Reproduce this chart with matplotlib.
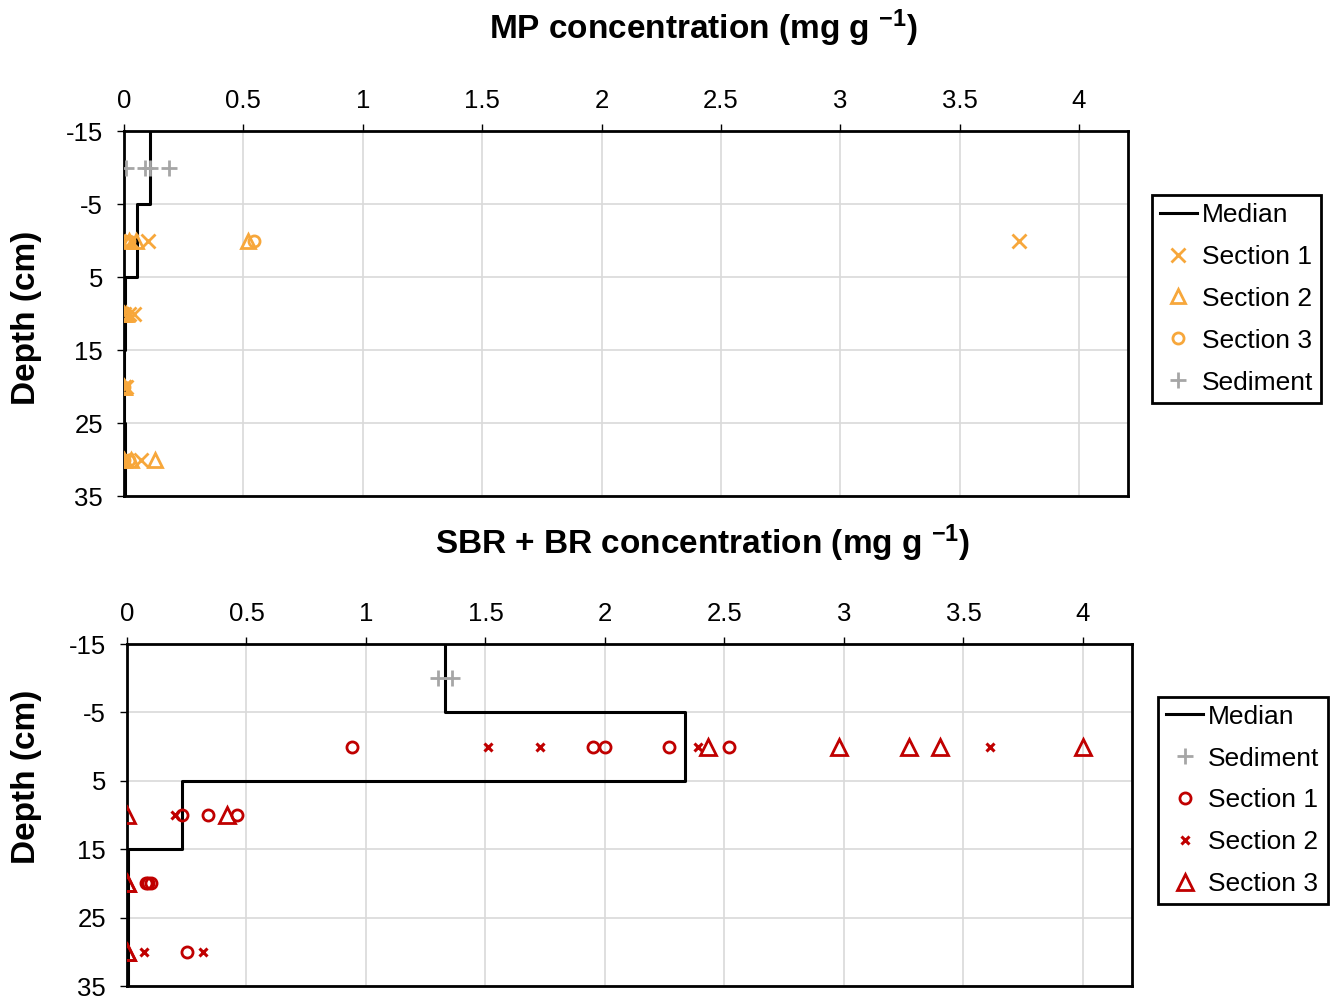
import numpy as np
import matplotlib
matplotlib.use("Agg")
import matplotlib.pyplot as plt

plt.rcParams["font.family"] = ["Liberation Sans", "DejaVu Sans"]
plt.rcParams["axes.unicode_minus"] = False
plt.rcParams["mathtext.default"] = "regular"

ORANGE = "#F7A73B"
RED = "#C00000"
GREY = "#A6A6A6"

depth_edges = [-15, -5, 5, 15, 25, 35]

# --- MP (top panel) ---
mp_median = [0.11, 0.055, 0.003, 0.002, 0.004]
mp_sed_depth = [-10, -10, -10, -10]
mp_sed_conc = [0.01, 0.09, 0.11, 0.19]
mp_s1_depth = [0, 0, 0, 10, 10, 10, 20, 20, 20, 30, 30, 30]
mp_s1_conc = [0.03, 0.10, 3.75, 0.0, 0.04, 0.02, 0.0, 0.01, 0.0, 0.0, 0.07, 0.01]
mp_s2_depth = [0, 0, 0, 10, 10, 20, 20, 30, 30, 30]
mp_s2_conc = [0.02, 0.05, 0.52, 0.0, 0.01, 0.0, 0.0, 0.0, 0.03, 0.13]
mp_s3_depth = [0, 0, 0, 10, 20, 30, 30]
mp_s3_conc = [0.0, 0.02, 0.545, 0.0, 0.0, 0.0, 0.02]

# --- SBR + BR (bottom panel) ---
sbr_median = [1.33, 2.335, 0.229, 0.003, 0.003]
sbr_sed_depth = [-10, -10]
sbr_sed_conc = [1.30, 1.36]
sbr_s1_depth = [0, 0, 0, 0, 0, 10, 10, 10, 20, 20, 20, 30]
sbr_s1_conc = [0.94, 1.95, 2.0, 2.27, 2.52, 0.23, 0.34, 0.46, 0.08, 0.09, 0.10, 0.25]
sbr_s2_depth = [0, 0, 0, 0, 10, 30, 30]
sbr_s2_conc = [1.51, 1.73, 2.39, 3.61, 0.20, 0.07, 0.32]
sbr_s3_depth = [0, 0, 0, 0, 0, 10, 10, 20, 20, 30, 30]
sbr_s3_conc = [2.43, 2.98, 3.27, 3.40, 4.0, 0.0, 0.42, 0.0, 0.0, 0.0, 0.0]

x_ticks = [0, 0.5, 1, 1.5, 2, 2.5, 3, 3.5, 4]
x_tick_labels = ["0", "0.5", "1", "1.5", "2", "2.5", "3", "3.5", "4"]
y_ticks = [-15, -5, 5, 15, 25, 35]


def median_steps(values):
    xs = np.repeat(values, 2)
    ys = []
    for i in range(len(values)):
        ys += [depth_edges[i], depth_edges[i + 1]]
    return xs, ys


def style_axes(ax):
    ax.set_xlim(0, 4.205)
    ax.set_ylim(35, -15)
    ax.set_xticks(x_ticks)
    ax.set_xticklabels(x_tick_labels)
    ax.set_yticks(y_ticks)
    ax.xaxis.tick_top()
    ax.tick_params(axis="both", labelsize=18.5, length=5, width=1, color="black")
    ax.tick_params(axis="x", pad=8)
    ax.tick_params(axis="y", pad=10)
    ax.grid(True, color="#D9D9D9", linewidth=1.2)
    ax.set_axisbelow(True)
    for sp in ax.spines.values():
        sp.set_linewidth(2)
        sp.set_color("black")


def add_legend(ax, anchor):
    leg = ax.legend(loc="upper left", bbox_to_anchor=anchor, fontsize=19, frameon=True,
                    fancybox=False, edgecolor="black", borderaxespad=0, handlelength=1.4,
                    handletextpad=0.2, borderpad=0.3, labelspacing=0.68, framealpha=1)
    leg.get_frame().set_linewidth(2)
    return leg


fig = plt.figure(figsize=(13.39, 9.98), dpi=100)
ax1 = fig.add_axes([0.0926, 0.503, 0.7498, 0.3657])
ax2 = fig.add_axes([0.0948, 0.012, 0.7506, 0.3427])

# top panel
mx, my = median_steps(mp_median)
ax1.plot(mx, my, color="black", linewidth=2.2, label="Median", zorder=3)
ax1.plot(mp_s1_conc, mp_s1_depth, "x", color=ORANGE, ms=10, mew=2, label="Section 1", zorder=4)
ax1.plot(mp_s2_conc, mp_s2_depth, "^", color=ORANGE, ms=10, mew=2, mfc="none", label="Section 2", zorder=4)
ax1.plot(mp_s3_conc, mp_s3_depth, "o", color=ORANGE, ms=8, mew=2, mfc="none", label="Section 3", zorder=4)
ax1.plot(mp_sed_conc, mp_sed_depth, "+", color=GREY, ms=12, mew=2, label="Sediment", zorder=4)
style_axes(ax1)
add_legend(ax1, (1.024, 0.825))

# bottom panel
sx, sy = median_steps(sbr_median)
ax2.plot(sx, sy, color="black", linewidth=2.2, label="Median", zorder=3)
ax2.plot(sbr_sed_conc, sbr_sed_depth, "+", color=GREY, ms=12, mew=2, label="Sediment", zorder=4)
ax2.plot(sbr_s1_conc, sbr_s1_depth, "o", color=RED, ms=8, mew=2, mfc="none", label="Section 1", zorder=4)
ax2.plot(sbr_s2_conc, sbr_s2_depth, "x", color=RED, ms=6, mew=2.2, label="Section 2", zorder=4)
ax2.plot(sbr_s3_conc, sbr_s3_depth, "^", color=RED, ms=11, mew=2, mfc="none", label="Section 3", zorder=4)
style_axes(ax2)
add_legend(ax2, (1.026, 0.846))

# titles and axis labels placed on the figure
fig.text(0.525, 1 - 28 / 998, "MP concentration (mg g $^{-1}$)", fontsize=24,
         fontweight="bold", ha="center", va="center")
fig.text(0.525, 1 - 543 / 998, "SBR + BR concentration (mg g $^{-1}$)", fontsize=24,
         fontweight="bold", ha="center", va="center")
fig.text(27 / 1339, 1 - 318 / 998, "Depth (cm)", fontsize=24, fontweight="bold",
         rotation=90, ha="center", va="center")
fig.text(27 / 1339, 1 - 777 / 998, "Depth (cm)", fontsize=24, fontweight="bold",
         rotation=90, ha="center", va="center")

fig.savefig("out.png", dpi=100)
